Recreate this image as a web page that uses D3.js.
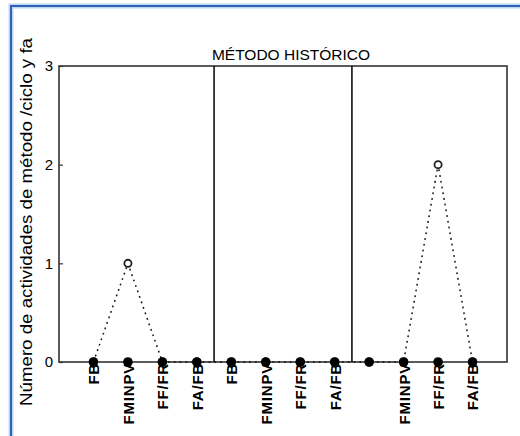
<!DOCTYPE html>
<html>
<head>
<meta charset="utf-8">
<script src="https://cdn.jsdelivr.net/npm/d3@7"></script>
<style>
  html, body { margin: 0; padding: 0; background: #fff; }
  svg { display: block; }
  text { font-family: "Liberation Sans", Arial, sans-serif; fill: #000; }
</style>
</head>
<body>
<script>
// Categories along the x axis (three groups of four)
const categories = ["FB", "FMINPV", "FF/FR", "FA/FB",
                    "FB", "FMINPV", "FF/FR", "FA/FB",
                    "", "FMINPV", "FF/FR", "FA/FB"];
// Baseline series (filled markers)
const baseValues = [0, 0, 0, 0, 0, 0, 0, 0, 0, 0, 0, 0];
// Historical-method series (dotted line with open markers)
const histValues = [0, 1, 0, 0, 0, 0, 0, 0, 0, 0, 2, 0];
const yTicks = [0, 1, 2, 3];
const groupBreaks = [4.5, 8.5];
const title = "MÉTODO HISTÓRICO";
const yLabel = "Número de actividades de método /ciclo y fa";

const W = 520, H = 436;
const svg = d3.select("body").append("svg").attr("width", W).attr("height", H);

// Outer blue frame (left and top edges visible)
const frame = svg.append("g");
frame.append("path")
  .attr("d", `M11,${H} L11,6 L${W},6`)
  .attr("fill", "none").attr("stroke", "#bcd6f3").attr("stroke-width", 5);
frame.append("path")
  .attr("d", `M11,${H} L11,6 L${W},6`)
  .attr("fill", "none").attr("stroke", "#2f62b5").attr("stroke-width", 2);

const x = d3.scaleLinear().domain([0, categories.length + 1]).range([59, 507]);
const y = d3.scaleLinear().domain([0, 3]).range([362, 66]);

// Plot box
svg.append("rect")
  .attr("x", x.range()[0]).attr("y", y(3))
  .attr("width", x.range()[1] - x.range()[0]).attr("height", y(0) - y(3))
  .attr("fill", "none").attr("stroke", "#333").attr("stroke-width", 1.6);

// Group dividers
svg.selectAll("line.div").data(groupBreaks).join("line")
  .attr("class", "div")
  .attr("x1", d => x(d)).attr("x2", d => x(d))
  .attr("y1", y(3)).attr("y2", y(0))
  .attr("stroke", "#111").attr("stroke-width", 1.6);

// Y axis: inward ticks
const yAxis = d3.axisLeft(y).tickValues(yTicks).tickSize(-4).tickPadding(6)
  .tickFormat(d3.format("d"));
const gy = svg.append("g").attr("transform", `translate(${x.range()[0]},0)`).call(yAxis);
gy.select(".domain").remove();
gy.selectAll(".tick line").attr("stroke", "#333").attr("stroke-width", 1.2);
gy.selectAll(".tick text").attr("font-size", 15)
  .style("font-family", "'Liberation Sans', Arial, sans-serif").attr("fill", "#000");

// X axis: rotated category labels, reading bottom-to-top and ending at the axis
const xAxis = d3.axisBottom(x)
  .tickValues(d3.range(1, categories.length + 1))
  .tickSize(0).tickFormat((d, i) => categories[i]);
const gx = svg.append("g").attr("transform", `translate(0,${y(0)})`).call(xAxis);
gx.select(".domain").remove();
gx.selectAll(".tick text")
  .attr("transform", "rotate(-90)")
  .attr("y", 0).attr("dy", "0.36em")
  .attr("text-anchor", "start")
  .attr("font-size", 15).attr("font-weight", "bold")
  .attr("letter-spacing", 0.8)
  .style("font-family", "'Liberation Sans', Arial, sans-serif").attr("fill", "#000")
  .each(function () {
    const len = this.getComputedTextLength();
    d3.select(this).attr("x", -len - 1);
  });

// Dotted historical-method line
const line = d3.line().x((d, i) => x(i + 1)).y(d => y(d));
svg.append("path")
  .datum(histValues)
  .attr("d", line)
  .attr("fill", "none").attr("stroke", "#111").attr("stroke-width", 1.5)
  .attr("stroke-dasharray", "1.8,4");

// Open markers on the historical series
svg.selectAll("circle.hist").data(histValues).join("circle")
  .attr("class", "hist")
  .attr("cx", (d, i) => x(i + 1)).attr("cy", d => y(d))
  .attr("r", 3.6).attr("fill", "#fff").attr("stroke", "#222").attr("stroke-width", 1.8);

// Filled baseline markers
svg.selectAll("circle.base").data(baseValues).join("circle")
  .attr("class", "base")
  .attr("cx", (d, i) => x(i + 1)).attr("cy", d => y(d))
  .attr("r", 4.8).attr("fill", "#000");

// Title
svg.append("text")
  .attr("x", 291).attr("y", 60)
  .attr("text-anchor", "middle").attr("font-size", 15.5)
  .text(title);

// Y axis label
svg.append("text")
  .attr("transform", `translate(32,222) rotate(-90)`)
  .attr("text-anchor", "middle").attr("font-size", 16)
  .attr("textLength", 368).attr("lengthAdjust", "spacingAndGlyphs")
  .text(yLabel);
</script>
</body>
</html>
